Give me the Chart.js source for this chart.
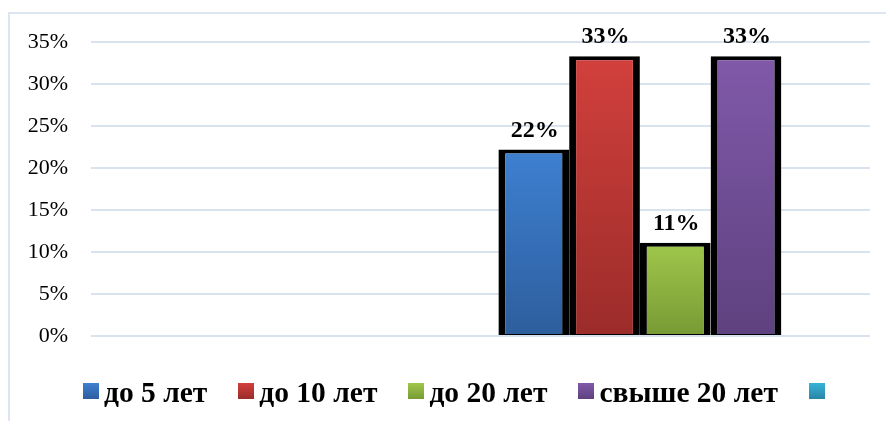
<!DOCTYPE html>
<html>
<head>
<meta charset="utf-8">
<script src="https://cdn.jsdelivr.net/npm/chart.js@4"></script>
<style>
  html, body { margin: 0; padding: 0; background: #fff; }
  #wrap { position: relative; width: 886px; height: 421px; overflow: hidden; }
  #frame { position: absolute; left: 8px; top: 12px; width: 900px; height: 430px; border: 2px solid #dce5f1; box-sizing: border-box; }
  #chart { position: absolute; left: 0; top: 0; }
  #legend { position: absolute; left: 83px; top: 375px; height: 32px; display: flex; align-items: center; gap: 31px;
            font: bold 29.5px "Liberation Serif", "Times New Roman", serif; color: #000; }
  #legend .item { display: flex; align-items: center; gap: 5px; white-space: nowrap; }
  #legend .box { width: 16px; height: 16px; }
  #legend .txt { position: relative; top: 1px; }
</style>
</head>
<body>
<div id="wrap">
  <div id="frame"></div>
  <canvas id="chart" width="886" height="421"></canvas>
  <div id="legend"></div>
</div>
<script>
// categories: first slot is empty in the source chart
const categories = ["", ""];
const seriesNames = ["до 5 лет", "до 10 лет", "до 20 лет", "свыше 20 лет", ""];
const upTo5 = [null, 22.2];
const upTo10 = [null, 33.3];
const upTo20 = [null, 11.1];
const over20 = [null, 33.3];
const unnamed = [null, null];
const yTicks = [0, 5, 10, 15, 20, 25, 30, 35];

// gradient stops (top, bottom) per series
const shades = [
  ["#3e80d1", "#2d5e9d"],
  ["#d2403c", "#9b2c2a"],
  ["#a0c74b", "#789a34"],
  ["#8059a9", "#5e417f"],
  ["#37b2d8", "#2986a5"]
];

function barFill(i){
  return function(ctx){
    const chart = ctx.chart;
    const y = chart.scales && chart.scales.y;
    if (!y || !chart.chartArea || ctx.raw == null) return shades[i][0];
    const top = y.getPixelForValue(ctx.raw);
    const bottom = y.getPixelForValue(0);
    const g = chart.ctx.createLinearGradient(0, top, 0, bottom);
    g.addColorStop(0, shades[i][0]);
    g.addColorStop(1, shades[i][1]);
    return g;
  };
}

const seriesData = [upTo5, upTo10, upTo20, over20, unnamed];

const valueLabels = {
  id: "valueLabels",
  afterDatasetsDraw(chart){
    const c = chart.ctx;
    c.save();
    c.font = "bold 24px 'Liberation Serif', 'Times New Roman', serif";
    c.fillStyle = "#000";
    c.textAlign = "center";
    c.textBaseline = "alphabetic";
    chart.data.datasets.forEach((ds, di) => {
      const meta = chart.getDatasetMeta(di);
      meta.data.forEach((el, i) => {
        const v = ds.data[i];
        if (v == null) return;
        c.fillText(Math.round(v) + "%", el.x + 1, el.y - 13);
      });
    });
    c.restore();
  }
};

new Chart(document.getElementById("chart"), {
  type: "bar",
  data: {
    labels: categories,
    datasets: seriesNames.map((name, i) => ({
      label: name,
      data: seriesData[i],
      backgroundColor: barFill(i),
      borderColor: "#000",
      borderWidth: { top: 4, left: 7, right: 7, bottom: 1 },
      borderSkipped: false,
      categoryPercentage: 0.908,
      barPercentage: 1.0
    }))
  },
  options: {
    responsive: false,
    animation: false,
    layout: { padding: { left: 0, top: 42, right: 16, bottom: 77 } },
    plugins: { legend: { display: false }, tooltip: { enabled: false } },
    scales: {
      x: {
        grid: { display: false },
        border: { display: false },
        ticks: { display: false }
      },
      y: {
        min: 0,
        max: 35,
        afterFit(scale){ scale.width = 91; },
        afterBuildTicks(scale){ scale.ticks = yTicks.map(v => ({ value: v })); },
        grid: { color: "#d9e3f0", lineWidth: 2, drawTicks: false },
        border: { display: false },
        ticks: {
          padding: 23,
          color: "#000",
          font: { family: "'Liberation Serif', 'Times New Roman', serif", size: 22 },
          callback: v => v + "%"
        }
      }
    }
  },
  plugins: [valueLabels]
});

document.getElementById("legend").innerHTML = seriesNames.map((name, i) =>
  `<div class="item"><div class="box" style="background:linear-gradient(${shades[i][0]},${shades[i][1]})"></div>` +
  (name ? `<span class="txt">${name}</span>` : "") + `</div>`
).join("");
</script>
</body>
</html>
